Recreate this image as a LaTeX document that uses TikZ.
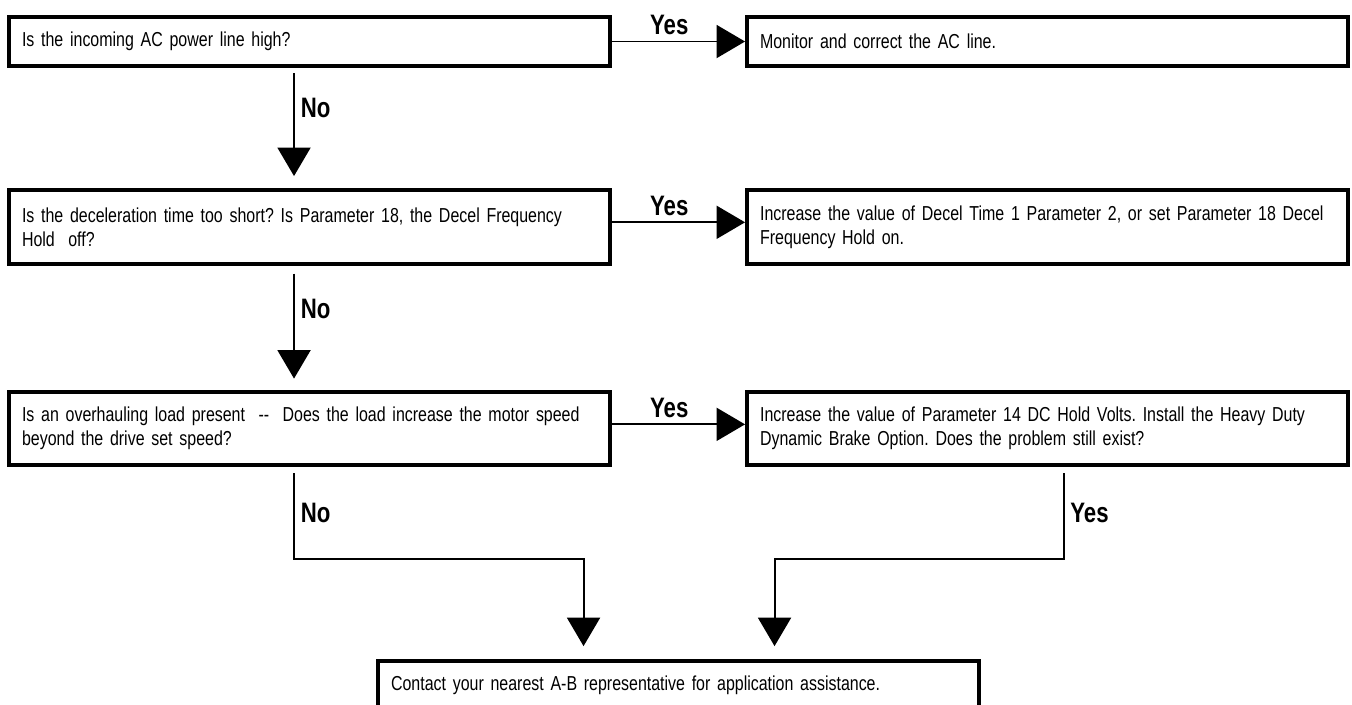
\documentclass[tikz,border=0pt]{standalone}
\usepackage{fontspec}
\setmainfont{Liberation Sans}[FakeStretch=0.79, WordSpace=0.9]
\usetikzlibrary{positioning,calc,arrows.meta}
\frenchspacing
\hyphenpenalty=10000
\newcommand{\widthbox}{12.02cm}
\newcommand{\gapcol}{2.66cm}
\tikzset{
    common/.style={draw, rectangle, line width=2.3pt, minimum width=\widthbox, inner xsep=0.26cm,
        text width=11.5cm, align=left, font=\fontsize{11.5pt}{13.7pt}\selectfont},
    onerow/.style={common, minimum height=0.98cm},
    tworow/.style={common, minimum height=1.47cm},
    flow/.style={line width=1.1pt, -{Triangle[width=0.66cm,length=0.57cm]}},
    tag/.style={font=\fontsize{16pt}{18pt}\selectfont\bfseries}
}

\begin{document}
\begin{tikzpicture}
    \useasboundingbox (0,0) rectangle (27.04,-14.08);

    \node[onerow, anchor=north west] (acHigh) at (0.14,-0.30) {Is the incoming AC power line high?};
    \node[onerow, right=\gapcol of acHigh] (acFix) {Monitor and correct the AC line.};

    \node[tworow, below=2.4cm of acHigh] (decelShort) {Is the deceleration time too short? Is Parameter 18, the Decel Frequency\\Hold~ off?};
    \node[tworow, right=\gapcol of decelShort] (decelFix) {Increase the value of Decel Time 1 Parameter 2, or set Parameter 18 Decel\\Frequency Hold on.};

    \node[tworow, below=2.48cm of decelShort] (overhaul) {Is an overhauling load present~ -{}-~ Does the load increase the motor speed\\beyond the drive set speed?};
    \node[tworow, right=\gapcol of overhaul] (brake) {Increase the value of Parameter 14 DC Hold Volts. Install the Heavy Duty\\Dynamic Brake Option. Does the problem still exist?};

    \node[onerow, anchor=north] (contact) at ($(overhaul.south)!.5!(brake.south)+(0,-3.84)$) {Contact your nearest A-B representative for application assistance.};

    \draw[flow] (acHigh) -- node[tag, above, pos=.43] {Yes} (acFix);
    \draw[flow] ([yshift=0.09cm]decelShort.east) -- node[tag, above, pos=.43] {Yes} ([yshift=0.09cm]decelFix.west);
    \draw[flow] ([yshift=0.08cm]overhaul.east) -- node[tag, above, pos=.43] {Yes} ([yshift=0.08cm]brake.west);

    \draw[flow, shorten <=0.1cm, shorten >=0.24cm] ([xshift=-0.31cm]acHigh.south) -- node[tag, right, pos=.33] {No} ([xshift=-0.31cm]decelShort.north);
    \draw[flow, shorten <=0.16cm, shorten >=0.22cm] ([xshift=-0.31cm]decelShort.south) -- node[tag, right, pos=.35] {No} ([xshift=-0.31cm]overhaul.north);

    \draw[flow, shorten <=0.12cm, shorten >=0.26cm] ([xshift=-0.31cm]overhaul.south) -- node[tag, right] {No} ++(0,-1.84) -| ([xshift=-1.9cm]contact.north);
    \draw[flow, shorten <=0.12cm, shorten >=0.26cm] ([xshift=0.32cm]brake.south) -- node[tag, right] {Yes} ++(0,-1.84) -| ([xshift=1.92cm]contact.north);
\end{tikzpicture}
\end{document}
